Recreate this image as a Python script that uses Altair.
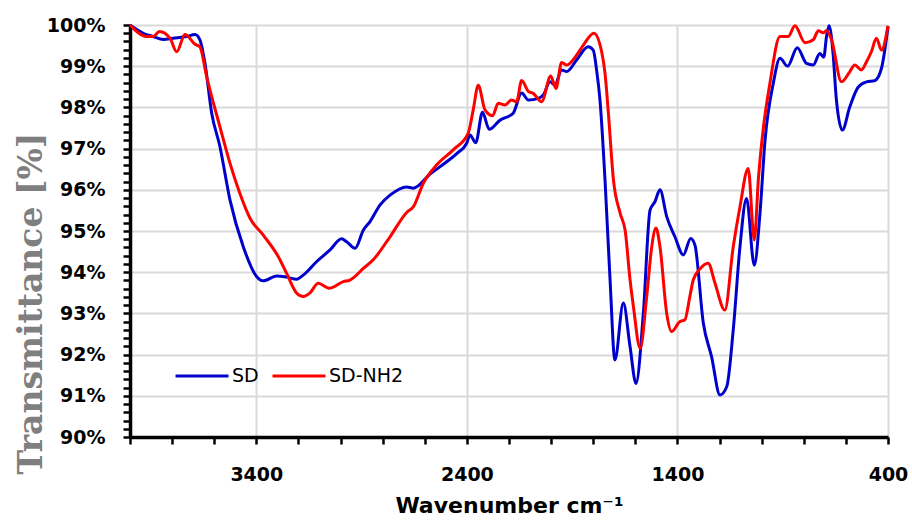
import altair as alt
import pandas as pd

# FTIR transmittance spectra (wavenumber in cm^-1, transmittance in %)
sd_wavenumber = [4000, 3937, 3890, 3842, 3795, 3731, 3691, 3668, 3644, 3612, 3573, 3525, 3462,
                 3398, 3367, 3303, 3256, 3208, 3177, 3113, 3050, 2995, 2971, 2931, 2892, 2860,
                 2813, 2765, 2686, 2654, 2575, 2496, 2448, 2401, 2385, 2358, 2326, 2294, 2243,
                 2180, 2140, 2108, 2061, 2037, 2005, 1982, 1950, 1926, 1879, 1824, 1800, 1784,
                 1768, 1744, 1720, 1697, 1657, 1625, 1597, 1562, 1530, 1507, 1483, 1451, 1412,
                 1372, 1337, 1317, 1277, 1238, 1198, 1166, 1135, 1103, 1072, 1035, 1008, 984,
                 945, 913, 877, 831, 787, 755, 724, 705, 692, 680, 661, 645, 617, 581, 542,
                 502, 463, 431, 400]
sd_transmittance = [100.0, 99.80, 99.72, 99.65, 99.68, 99.72, 99.77, 99.64, 99.07, 97.86, 97.05,
                    95.75, 94.62, 93.89, 93.79, 93.91, 93.88, 93.83, 93.93, 94.26, 94.54, 94.81,
                    94.74, 94.58, 95.02, 95.23, 95.63, 95.87, 96.07, 96.04, 96.38, 96.68, 96.88,
                    97.13, 97.33, 97.14, 97.88, 97.47, 97.69, 97.86, 98.35, 98.18, 98.22, 98.30,
                    98.62, 98.54, 98.91, 98.87, 99.15, 99.47, 99.39, 98.91, 98.18, 96.24, 93.81,
                    91.87, 93.25, 92.19, 91.30, 93.00, 95.51, 95.71, 96.00, 95.35, 94.86, 94.42,
                    94.82, 94.66, 92.76, 91.95, 91.02, 91.22, 92.60, 94.62, 95.79, 94.17, 95.43,
                    97.20, 98.58, 99.19, 99.00, 99.45, 99.07, 99.03, 99.31, 99.22, 99.72, 99.98,
                    99.31, 98.18, 97.45, 98.02, 98.49, 98.62, 98.65, 98.95, 99.96]

nh2_wavenumber = [4000, 3921, 3890, 3860, 3810, 3778, 3739, 3691, 3668, 3636, 3573, 3525, 3478,
                  3430, 3367, 3296, 3256, 3208, 3177, 3145, 3106, 3054, 2987, 2955, 2892, 2845,
                  2765, 2686, 2654, 2607, 2544, 2465, 2394, 2370, 2346, 2314, 2278, 2251, 2219,
                  2188, 2164, 2140, 2108, 2085, 2045, 2002, 1977, 1950, 1926, 1879, 1847, 1797,
                  1760, 1744, 1728, 1704, 1672, 1648, 1625, 1609, 1577, 1546, 1522, 1502, 1483,
                  1451, 1428, 1389, 1365, 1341, 1325, 1293, 1254, 1222, 1175, 1135, 1103, 1064,
                  1035, 1015, 992, 961, 913, 874, 842, 794, 755, 731, 708, 692, 668, 621, 581,
                  558, 526, 502, 479, 455, 431, 400]
nh2_transmittance = [100.0, 99.72, 99.72, 99.84, 99.68, 99.35, 99.77, 99.53, 99.47, 98.75, 97.53,
                     96.64, 95.91, 95.31, 94.90, 94.38, 93.97, 93.49, 93.41, 93.50, 93.73, 93.61,
                     93.77, 93.81, 94.09, 94.30, 94.86, 95.45, 95.59, 96.16, 96.60, 96.97, 97.37,
                     97.94, 98.54, 97.94, 97.80, 98.10, 98.06, 98.18, 98.14, 98.65, 98.39, 98.34,
                     98.14, 98.76, 98.46, 99.09, 99.03, 99.27, 99.51, 99.80, 99.35, 98.83, 97.86,
                     96.24, 95.43, 95.00, 93.81, 93.16, 92.15, 93.41, 94.62, 95.07, 94.62, 93.00,
                     92.56, 92.80, 92.84, 93.41, 93.81, 94.08, 94.22, 93.74, 93.08, 94.62, 95.59,
                     96.52, 94.78, 96.30, 97.50, 98.58, 99.72, 99.72, 99.98, 99.57, 99.64, 99.86,
                     99.81, 99.86, 99.64, 98.62, 98.87, 99.03, 98.91, 99.11, 99.35, 99.68, 99.39,
                     99.98]

series_names = ["SD", "SD-NH2"]
series_colors = ["#0000CC", "#FF0000"]

x_tick_values = list(range(400, 4001, 200))
y_tick_values = [round(90 + 0.2 * i, 1) for i in range(51)]

frames = [
    pd.DataFrame({"wavenumber": sd_wavenumber, "transmittance": sd_transmittance, "sample": series_names[0]}),
    pd.DataFrame({"wavenumber": nh2_wavenumber, "transmittance": nh2_transmittance, "sample": series_names[1]}),
]
data = pd.concat(frames, ignore_index=True)

is_major_x = "(datum.value - 400) % 1000 === 0"
is_major_y = "abs(datum.value - round(datum.value)) < 0.01"

x_axis = alt.Axis(
    values=x_tick_values,
    labelExpr=f"{is_major_x} ? datum.value : ''",
    labelFont="DejaVu Sans", labelFontSize=19, labelFontWeight="bold", labelColor="black",
    labelBaseline="middle", labelPadding=30, labelFlush=False,
    tickSize=7, tickWidth=2.5, tickColor="black",
    domainColor="black", domainWidth=3.5,
    grid=True, gridColor="#D9D9D9", gridWidth=2,
    gridOpacity={"condition": {"test": is_major_x, "value": 1}, "value": 0},
    title="Wavenumber cm⁻¹",
    titleFont="DejaVu Sans", titleFontSize=22, titleFontWeight="bold", titleColor="black",
    titleX=379, titleY=68, titleAlign="center", titleBaseline="middle",
)

y_axis = alt.Axis(
    values=y_tick_values,
    labelExpr=f"{is_major_y} ? round(datum.value) + '%' : ''",
    labelFont="DejaVu Sans", labelFontSize=19, labelFontWeight="bold", labelColor="black",
    labelPadding=18, labelFlush=False,
    tickSize=7, tickWidth=2.5, tickColor="black",
    domainColor="black", domainWidth=3.5,
    grid=True, gridColor="#D9D9D9", gridWidth=2,
    gridOpacity={"condition": {"test": is_major_y, "value": 1}, "value": 0},
    title="Transmittance [%]",
    titleFont="DejaVu Serif", titleFontSize=33, titleFontWeight="bold", titleColor="#7F7F7F",
    titleAngle=270, titleX=-99, titleY=278, titleAlign="center", titleBaseline="middle",
)

chart = (
    alt.Chart(data)
    .mark_line(strokeWidth=3, interpolate="monotone")
    .encode(
        x=alt.X("wavenumber:Q", scale=alt.Scale(domain=[400, 4000], reverse=True, nice=False, zero=False), axis=x_axis),
        y=alt.Y("transmittance:Q", scale=alt.Scale(domain=[90, 100], nice=False, zero=False), axis=y_axis),
        color=alt.Color(
            "sample:N",
            scale=alt.Scale(domain=series_names, range=series_colors),
            legend=alt.Legend(
                title=None, orient="none", legendX=44, legendY=323,
                direction="horizontal", symbolType="stroke", symbolStrokeWidth=3,
                symbolSize=2809, labelFont="DejaVu Sans", labelFontSize=19,
                labelColor="black", labelOffset=2, columnPadding=7,
            ),
        ),
        order=alt.Order("wavenumber:Q", sort="descending"),
    )
    .properties(
        width=758, height=412,
        autosize=alt.AutoSizeParams(type="none"),
        padding={"left": 130, "top": 25, "right": 24, "bottom": 83},
    )
    .configure_view(stroke="black", strokeWidth=3)
    .configure(background="white")
)

chart.save("out.html", embed_options={"renderer": "svg", "actions": False})
